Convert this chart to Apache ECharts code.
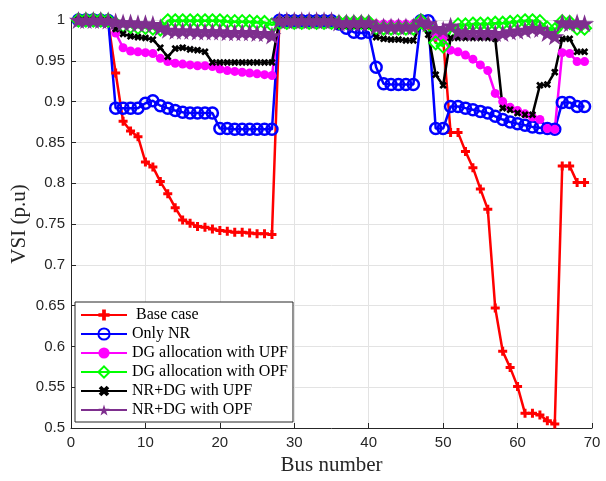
<!DOCTYPE html>
<html>
<head>
<meta charset="utf-8">
<script src="https://cdn.jsdelivr.net/npm/echarts@6/dist/echarts.min.js"></script>
<style>
  html, body { margin: 0; padding: 0; background: #fff; }
  #chart { width: 606px; height: 481px; }
</style>
</head>
<body>
<div id="chart"></div>
<script>
// Voltage stability index (p.u.) at each bus of the 69-bus feeder
const buses = Array.from({ length: 69 }, (_, i) => i + 1);

const seriesNames = [
  ' Base case',
  'Only NR',
  'DG allocation with UPF',
  'DG allocation with OPF',
  'NR+DG with UPF',
  'NR+DG with OPF'
];

const baseCase = [
  1.0, 0.9999, 0.9998, 0.9994, 0.997, 0.935, 0.876, 0.864, 0.857, 0.826,
  0.820, 0.802, 0.787, 0.770, 0.755, 0.751, 0.747, 0.746, 0.744, 0.742,
  0.741, 0.740, 0.740, 0.739, 0.738, 0.738, 0.737, 0.9997, 0.9995, 0.999,
  0.999, 0.999, 0.998, 0.998, 0.998, 0.9997, 0.9995, 0.999, 0.999, 0.999,
  0.995, 0.994, 0.994, 0.994, 0.993, 0.993, 0.9993, 0.994, 0.979, 0.977,
  0.862, 0.862, 0.839, 0.819, 0.793, 0.768, 0.647, 0.594, 0.574, 0.551,
  0.518, 0.518, 0.516, 0.509, 0.505, 0.821, 0.821, 0.801, 0.801
];

const onlyNR = [
  1.0, 1.0, 0.9999, 0.9998, 0.9995, 0.892, 0.892, 0.892, 0.892, 0.898,
  0.901, 0.895, 0.892, 0.889, 0.887, 0.886, 0.886, 0.886, 0.886, 0.867,
  0.867, 0.866, 0.866, 0.866, 0.866, 0.866, 0.866, 0.9997, 0.9995, 0.999,
  0.999, 0.999, 0.999, 0.999, 0.999, 0.995, 0.990, 0.985, 0.984, 0.985,
  0.942, 0.922, 0.921, 0.921, 0.921, 0.921, 0.999, 0.999, 0.867, 0.867,
  0.894, 0.894, 0.892, 0.890, 0.888, 0.886, 0.882, 0.878, 0.875, 0.873,
  0.871, 0.869, 0.868, 0.867, 0.866, 0.899, 0.899, 0.894, 0.894
];

const dgUPF = [
  1.0, 1.0, 0.9999, 0.9998, 0.9996, 0.984, 0.966, 0.962, 0.961, 0.960,
  0.959, 0.953, 0.949, 0.947, 0.946, 0.945, 0.944, 0.944, 0.943, 0.940,
  0.938, 0.937, 0.936, 0.935, 0.934, 0.933, 0.932, 0.9998, 0.9996, 0.999,
  0.999, 0.999, 0.999, 0.999, 0.999, 0.999, 0.999, 0.999, 0.999, 0.999,
  0.995, 0.995, 0.995, 0.995, 0.995, 0.995, 0.9995, 0.995, 0.980, 0.977,
  0.963, 0.961, 0.957, 0.952, 0.945, 0.938, 0.910, 0.900, 0.893, 0.889,
  0.885, 0.881, 0.878, 0.867, 0.866, 0.960, 0.959, 0.949, 0.949
];

const dgOPF = [
  1.0, 1.0, 1.0, 1.0, 0.9995, 0.995, 0.993, 0.992, 0.991, 0.991,
  0.990, 0.989, 0.999, 0.999, 0.999, 0.999, 0.999, 0.999, 0.999, 0.999,
  0.998, 0.998, 0.998, 0.998, 0.997, 0.997, 0.994, 0.997, 0.997, 0.997,
  0.997, 0.997, 0.997, 0.997, 0.997, 0.997, 0.997, 0.997, 0.997, 0.997,
  0.990, 0.990, 0.990, 0.990, 0.990, 0.990, 0.999, 0.990, 0.972, 0.968,
  0.986, 0.994, 0.994, 0.995, 0.995, 0.995, 0.996, 0.996, 0.997, 0.998,
  0.999, 0.999, 0.998, 0.990, 0.988, 0.998, 0.997, 0.990, 0.990
];

const nrDgUPF = [
  1.0, 1.0, 0.9999, 0.9998, 0.9996, 0.989, 0.983, 0.980, 0.979, 0.978,
  0.976, 0.966, 0.955, 0.965, 0.966, 0.964, 0.963, 0.961, 0.948, 0.948,
  0.948, 0.948, 0.948, 0.948, 0.948, 0.948, 0.948, 0.9995, 0.9995, 0.9995,
  0.9995, 0.9995, 0.9995, 0.9995, 0.9995, 0.993, 0.993, 0.993, 0.993, 0.993,
  0.979, 0.977, 0.976, 0.976, 0.975, 0.975, 0.995, 0.982, 0.933, 0.920,
  0.978, 0.978, 0.978, 0.978, 0.978, 0.978, 0.977, 0.892, 0.890, 0.886,
  0.884, 0.884, 0.920, 0.921, 0.936, 0.977, 0.977, 0.961, 0.961
];

const nrDgOPF = [
  1.0, 1.0, 1.0, 1.0, 0.9995, 0.998, 0.997, 0.997, 0.996, 0.996,
  0.995, 0.991, 0.988, 0.987, 0.987, 0.987, 0.986, 0.986, 0.986, 0.986,
  0.985, 0.985, 0.985, 0.985, 0.984, 0.984, 0.981, 0.9995, 0.9995, 0.9995,
  0.9995, 0.9995, 0.9995, 0.9995, 0.9995, 0.997, 0.997, 0.997, 0.997, 0.997,
  0.992, 0.992, 0.992, 0.992, 0.992, 0.992, 0.998, 0.996, 0.990, 0.988,
  0.993, 0.986, 0.985, 0.985, 0.985, 0.985, 0.984, 0.984, 0.986, 0.987,
  0.988, 0.990, 0.989, 0.984, 0.980, 0.997, 0.996, 0.997, 0.996
];

const xTicks = { min: 0, max: 70, interval: 10 };
const yTicks = { min: 0.5, max: 1, interval: 0.05 };

// Marker shapes
const plusPath = 'path://M-1,-3L1,-3L1,-1L3,-1L3,1L1,1L1,3L-1,3L-1,1L-3,1L-3,-1L-1,-1Z';
const starPath = 'path://M0,-100L22.45,-30.9L95.1,-30.9L36.3,11.8L58.8,80.9L0,38.2L-58.8,80.9L-36.3,11.8L-95.1,-30.9L-22.45,-30.9Z';

const pairs = vals => buses.map((b, i) => [b, vals[i]]);

function lineSeries(name, vals, color, marker) {
  return Object.assign({
    name: name,
    type: 'line',
    data: pairs(vals),
    clip: false,
    lineStyle: { color: color, width: 2.5 },
    emphasis: { disabled: true }
  }, marker);
}

const series = [
  lineSeries(seriesNames[0], baseCase, '#ff0000', {
    symbol: plusPath, symbolSize: 9, symbolKeepAspect: true,
    itemStyle: { color: '#ff0000' }
  }),
  lineSeries(seriesNames[1], onlyNR, '#0000ff', {
    symbol: 'circle', symbolSize: 11,
    itemStyle: { color: 'rgba(0,0,0,0)', borderColor: '#0000ff', borderWidth: 2.5 }
  }),
  lineSeries(seriesNames[2], dgUPF, '#ff00ff', {
    symbol: 'circle', symbolSize: 9,
    itemStyle: { color: '#ff00ff' }
  }),
  lineSeries(seriesNames[3], dgOPF, '#00ff00', {
    symbol: 'diamond', symbolSize: 13,
    itemStyle: { color: 'rgba(0,0,0,0)', borderColor: '#00ff00', borderWidth: 2 }
  }),
  lineSeries(seriesNames[4], nrDgUPF, '#000000', {
    symbol: plusPath, symbolSize: 8, symbolRotate: 45, symbolKeepAspect: true,
    itemStyle: { color: '#000000' }
  }),
  lineSeries(seriesNames[5], nrDgOPF, '#7e2f8e', {
    symbol: starPath, symbolSize: 19, symbolKeepAspect: true,
    itemStyle: { color: '#7e2f8e' }
  })
];

const axisColor = '#262626';
const chart = echarts.init(document.getElementById('chart'), null, { renderer: 'canvas' });

chart.setOption({
  animation: false,
  backgroundColor: '#ffffff',
  grid: { left: 71, right: 14, top: 20, bottom: 53, containLabel: false, outerBoundsMode: 'none' },
  xAxis: {
    type: 'value',
    min: xTicks.min, max: xTicks.max, interval: xTicks.interval,
    name: 'Bus number',
    nameLocation: 'middle',
    nameGap: 27,
    nameMoveOverlap: false,
    nameTextStyle: { fontFamily: 'Liberation Serif', fontSize: 21, color: axisColor },
    axisLine: { lineStyle: { color: axisColor, width: 1 } },
    axisTick: { inside: true, length: 5, lineStyle: { color: axisColor } },
    axisLabel: { fontFamily: 'Liberation Sans', fontSize: 15, color: axisColor, margin: 7 },
    splitLine: { show: true, lineStyle: { color: '#e3e3e3', width: 1 } }
  },
  yAxis: {
    type: 'value',
    min: yTicks.min, max: yTicks.max, interval: yTicks.interval,
    name: 'VSI (p.u)',
    nameLocation: 'middle',
    nameGap: 41,
    nameMoveOverlap: false,
    nameTextStyle: { fontFamily: 'Liberation Serif', fontSize: 21, color: axisColor },
    axisLine: { show: true, lineStyle: { color: axisColor, width: 1 } },
    axisTick: { show: true, inside: true, length: 5, lineStyle: { color: axisColor } },
    axisLabel: { fontFamily: 'Liberation Sans', fontSize: 15, color: axisColor, margin: 6 },
    splitLine: { show: true, lineStyle: { color: '#e3e3e3', width: 1 } }
  },
  legend: {
    data: seriesNames,
    orient: 'vertical',
    left: 75,
    top: 302,
    itemWidth: 46,
    itemHeight: 14,
    itemGap: 3,
    padding: [5, 5, 4, 5],
    backgroundColor: '#ffffff',
    borderColor: axisColor,
    borderWidth: 1,
    borderRadius: 0,
    textStyle: { fontFamily: 'Liberation Serif', fontSize: 16, color: '#000000' }
  },
  series: series
});
</script>
</body>
</html>
